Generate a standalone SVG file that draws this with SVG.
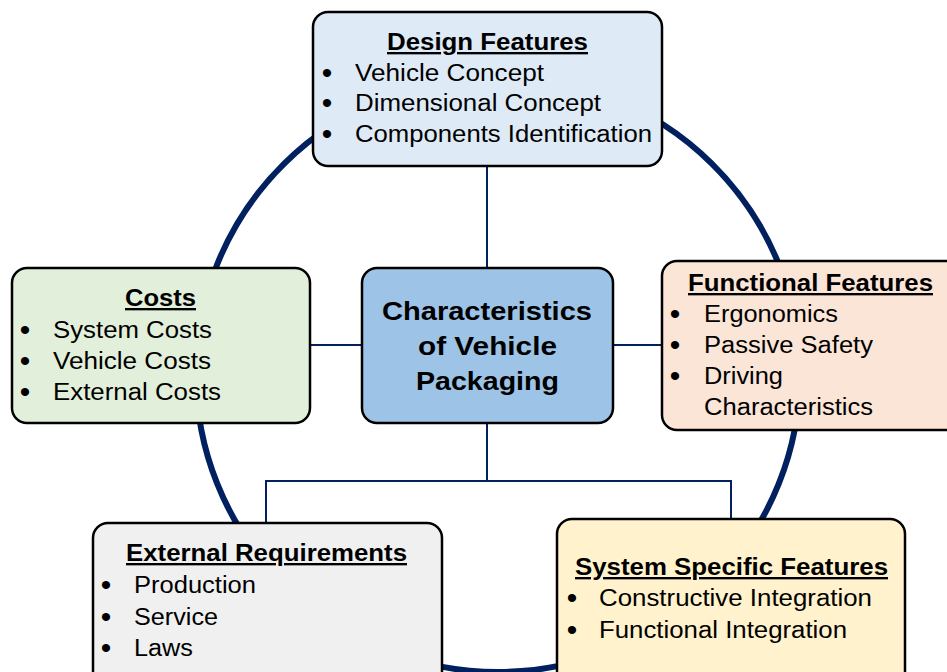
<svg xmlns="http://www.w3.org/2000/svg" width="947" height="672" viewBox="0 0 947 672">
  <style>
    .box { stroke: #000; stroke-width: 2.5; }
    .ring { fill: none; stroke: #002060; stroke-width: 6; }
    .link { fill: none; stroke: #002060; stroke-width: 2; }
    text { font-family: "Liberation Sans", Arial, sans-serif; fill: #000; }
    .title { font-size: 23.5px; font-weight: bold; text-decoration: underline; text-anchor: middle; }
    .item { font-size: 23.5px; }
    .dot { font-size: 30px; text-anchor: middle; }
    .core { font-size: 26.5px; font-weight: bold; text-anchor: middle; }
  </style>
  <rect width="947" height="672" fill="#fff"/>

  <!-- surrounding ring -->
  <ellipse class="ring" cx="498" cy="374" rx="302" ry="298"/>

  <!-- connectors -->
  <g id="connectors">
    <line class="link" x1="487" y1="166" x2="487" y2="268"/>
    <line class="link" x1="310" y1="345" x2="362" y2="345"/>
    <line class="link" x1="613" y1="345" x2="662" y2="345"/>
    <polyline class="link" points="487,423 487,481"/>
    <polyline class="link" points="266,523 266,481 731,481 731,519"/>
  </g>

  <!-- Design Features -->
  <g id="design">
    <rect class="box" x="313" y="12" width="349" height="154" rx="15" fill="#DEEAF6"/>
    <text class="title" x="487.5" y="50" textLength="201" lengthAdjust="spacingAndGlyphs">Design Features</text>
    <text class="dot" x="327" y="83">•</text>
    <text class="dot" x="327" y="113">•</text>
    <text class="dot" x="327" y="144">•</text>
    <text class="item" x="355" y="81" textLength="189" lengthAdjust="spacingAndGlyphs">Vehicle Concept</text>
    <text class="item" x="355" y="111" textLength="246" lengthAdjust="spacingAndGlyphs">Dimensional Concept</text>
    <text class="item" x="355" y="142" textLength="297" lengthAdjust="spacingAndGlyphs">Components Identification</text>
  </g>

  <!-- Costs -->
  <g id="costs">
    <rect class="box" x="12" y="268" width="298" height="155" rx="15" fill="#E2EFDA"/>
    <text class="title" x="160.5" y="306" textLength="71" lengthAdjust="spacingAndGlyphs">Costs</text>
    <text class="dot" x="25" y="340">•</text>
    <text class="dot" x="25" y="371">•</text>
    <text class="dot" x="25" y="402">•</text>
    <text class="item" x="53" y="338" textLength="159" lengthAdjust="spacingAndGlyphs">System Costs</text>
    <text class="item" x="53" y="369" textLength="158" lengthAdjust="spacingAndGlyphs">Vehicle Costs</text>
    <text class="item" x="53" y="400" textLength="168" lengthAdjust="spacingAndGlyphs">External Costs</text>
  </g>

  <!-- Centre node -->
  <g id="center">
    <rect class="box" x="362" y="268" width="251" height="155" rx="15" fill="#9DC3E6"/>
    <text class="core" x="487" y="320" textLength="210" lengthAdjust="spacingAndGlyphs">Characteristics</text>
    <text class="core" x="487.5" y="355" textLength="139" lengthAdjust="spacingAndGlyphs">of Vehicle</text>
    <text class="core" x="487.5" y="390" textLength="143" lengthAdjust="spacingAndGlyphs">Packaging</text>
  </g>

  <!-- Functional Features -->
  <g id="functional">
    <rect class="box" x="662" y="261" width="300" height="169" rx="15" fill="#FBE5D6"/>
    <text class="title" x="810.5" y="291" textLength="245" lengthAdjust="spacingAndGlyphs">Functional Features</text>
    <text class="dot" x="675" y="324">•</text>
    <text class="dot" x="675" y="355">•</text>
    <text class="dot" x="675" y="386">•</text>
    <text class="item" x="704" y="322" textLength="134" lengthAdjust="spacingAndGlyphs">Ergonomics</text>
    <text class="item" x="704" y="353" textLength="169" lengthAdjust="spacingAndGlyphs">Passive Safety</text>
    <text class="item" x="704" y="384" textLength="79" lengthAdjust="spacingAndGlyphs">Driving</text>
    <text class="item" x="704" y="415" textLength="169" lengthAdjust="spacingAndGlyphs">Characteristics</text>
  </g>

  <!-- External Requirements -->
  <g id="external">
    <rect class="box" x="93" y="523" width="349" height="170" rx="15" fill="#F0F0F0"/>
    <text class="title" x="266.5" y="561" textLength="281" lengthAdjust="spacingAndGlyphs">External Requirements</text>
    <text class="dot" x="106" y="595">•</text>
    <text class="dot" x="106" y="627">•</text>
    <text class="dot" x="106" y="658">•</text>
    <text class="item" x="134" y="593" textLength="122" lengthAdjust="spacingAndGlyphs">Production</text>
    <text class="item" x="134" y="625" textLength="84" lengthAdjust="spacingAndGlyphs">Service</text>
    <text class="item" x="134" y="656" textLength="59" lengthAdjust="spacingAndGlyphs">Laws</text>
  </g>

  <!-- System Specific Features -->
  <g id="system">
    <rect class="box" x="557" y="519" width="348" height="174" rx="15" fill="#FFF2CC"/>
    <text class="title" x="731.5" y="575" textLength="313" lengthAdjust="spacingAndGlyphs">System Specific Features</text>
    <text class="dot" x="572" y="608">•</text>
    <text class="dot" x="572" y="640">•</text>
    <text class="item" x="599" y="606" textLength="273" lengthAdjust="spacingAndGlyphs">Constructive Integration</text>
    <text class="item" x="599" y="638" textLength="248" lengthAdjust="spacingAndGlyphs">Functional Integration</text>
  </g>
</svg>
